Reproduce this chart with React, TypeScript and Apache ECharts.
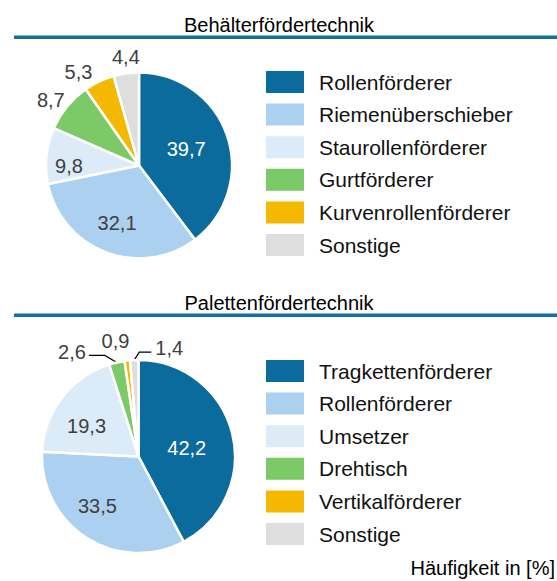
import React, { useEffect, useRef } from 'react';
import * as echarts from 'echarts';

// ---------- data ----------
const title1 = 'Behälterfördertechnik';
const categories1 = ['Rollenförderer', 'Riemenüberschieber', 'Staurollenförderer', 'Gurtförderer', 'Kurvenrollenförderer', 'Sonstige'];
const values1 = [39.7, 32.1, 9.8, 8.7, 5.3, 4.4];

const title2 = 'Palettenfördertechnik';
const categories2 = ['Tragkettenförderer', 'Rollenförderer', 'Umsetzer', 'Drehtisch', 'Vertikalförderer', 'Sonstige'];
const values2 = [42.2, 33.5, 19.3, 2.6, 0.9, 1.4];

const unitLabel = 'Häufigkeit in [%]';

// ---------- styles / layout ----------
const colors = ['#0c6b9d', '#abd0f0', '#dcebf8', '#7bc967', '#f5b800', '#dedede'];
const textColors = ['#ffffff', '#404040', '#404040', '#404040', '#404040', '#404040'];
// placement of each value label: distance from centre + angular nudge (deg, clockwise),
// or a side for labels drawn with a leader line
type LabelPlace = { r: number; da: number } | 'left' | 'right';
const labelPlace1: LabelPlace[] = [
  { r: 47, da: -1 }, { r: 59, da: 0 }, { r: 67, da: -6.5 },
  { r: 107, da: -2.7 }, { r: 108, da: -7.7 }, { r: 106, da: 1 },
];
const labelPlace2: LabelPlace[] = [
  { r: 46, da: 4 }, { r: 61, da: 7.5 }, { r: 57, da: -7.5 },
  'left', { r: 115, da: -4.6 }, 'right',
];

const FONT = '"Liberation Sans", Arial, Helvetica, sans-serif';
const LINE_BLUE = '#136f9f';
const LABEL_SIZE = 20;

const fmt = (v: number) => v.toFixed(1).replace('.', ',');

function labelHelpers(center: number[], names: string[], values: number[], places: LabelPlace[]) {
  const out: any[] = [];
  places.forEach((pl, i) => {
    if (typeof pl !== 'object') return;
    out.push({
      type: 'pie',
      center,
      radius: [pl.r - 0.5, pl.r + 0.5],
      startAngle: 90 - pl.da,
      clockwise: true,
      silent: true,
      avoidLabelOverlap: false,
      itemStyle: { color: 'rgba(0,0,0,0)', borderWidth: 0 },
      labelLine: { show: false },
      emphasis: { disabled: true },
      data: values.map((v, j) => ({
        name: names[j],
        value: v,
        label: j === i
          ? { show: true, position: 'inside', color: textColors[j], fontSize: LABEL_SIZE, fontFamily: FONT, formatter: (p: any) => fmt(p.value) }
          : { show: false },
      })),
    });
  });
  return out;
}

function mainPie(center: number[], r: number, names: string[], values: number[], places: LabelPlace[]) {
  return {
    type: 'pie',
    center,
    radius: [0, r],
    startAngle: 90,
    clockwise: true,
    silent: true,
    avoidLabelOverlap: false,
    itemStyle: { borderColor: '#ffffff', borderWidth: 2.5 },
    emphasis: { disabled: true },
    label: { show: false },
    labelLine: { show: false },
    data: values.map((v, i) => {
      const side = places[i];
      const base: any = { name: names[i], value: v, itemStyle: { color: colors[i] } };
      if (side === 'left' || side === 'right') {
        base.label = {
          show: true, position: 'outside', color: textColors[i], fontSize: LABEL_SIZE, fontFamily: FONT,
          formatter: (p: any) => fmt(p.value),
        };
        base.labelLine = { show: true, length: 8, length2: 12, lineStyle: { color: '#000000', width: 1.2 } };
      }
      return base;
    }),
    labelLayout: (params: any) => {
      const side = places[params.dataIndex];
      if ((side !== 'left' && side !== 'right') || !params.labelLinePoints) return {};
      const p0 = params.labelLinePoints[0];
      if (side === 'left') {
        const p1 = [p0[0] - 12, p0[1] - 7];
        const p2 = [p1[0] - 16, p1[1]];
        return { x: p2[0] - 3, y: p2[1] - 3, align: 'right', verticalAlign: 'middle', labelLinePoints: [p0, p1, p2] };
      }
      const p1 = [p0[0] + 5, p0[1] - 8];
      const p2 = [p1[0] + 12, p1[1]];
      return { x: p2[0] + 4, y: p2[1] - 4, align: 'left', verticalAlign: 'middle', labelLinePoints: [p0, p1, p2] };
    },
  };
}

function legendFor(names: string[], top: number) {
  return {
    orient: 'vertical',
    left: 266,
    top,
    padding: 0,
    itemWidth: 38,
    itemHeight: 22,
    itemGap: 10.6,
    icon: 'rect',
    selectedMode: false,
    textStyle: { fontSize: 21, color: '#111111', fontFamily: FONT, padding: [0, 0, 0, 10] },
    data: names.map((n, i) => ({ name: n, icon: 'rect', itemStyle: { color: colors[i], borderWidth: 0 } })),
  };
}

export default function App() {
  const ref = useRef<HTMLDivElement>(null);
  useEffect(() => {
    if (!ref.current) return;
    const chart = echarts.init(ref.current, undefined, { renderer: 'svg' });
    const c1 = [139, 165.5];
    const c2 = [138.5, 456.5];
    chart.setOption({
      animation: false,
      backgroundColor: '#ffffff',
      textStyle: { fontFamily: FONT },
      legend: [legendFor(categories1, 71), legendFor(categories2, 360)],
      graphic: [
        { type: 'text', x: 279, y: 24.5, style: { text: title1, fontSize: 20, fill: '#000', fontFamily: FONT, align: 'center', verticalAlign: 'middle' } },
        { type: 'rect', shape: { x: 14, y: 35.5, width: 543, height: 3.5 }, style: { fill: LINE_BLUE } },
        { type: 'text', x: 279, y: 302.5, style: { text: title2, fontSize: 20, fill: '#000', fontFamily: FONT, align: 'center', verticalAlign: 'middle' } },
        { type: 'rect', shape: { x: 14, y: 313.5, width: 543, height: 3.5 }, style: { fill: LINE_BLUE } },
        { type: 'text', x: 555, y: 568, style: { text: unitLabel, fontSize: 20, fill: '#000', fontFamily: FONT, align: 'right', verticalAlign: 'middle' } },
      ],
      series: [
        mainPie(c1, 93, categories1, values1, labelPlace1),
        mainPie(c2, 96.5, categories2, values2, labelPlace2),
        ...labelHelpers(c1, categories1, values1, labelPlace1),
        ...labelHelpers(c2, categories2, values2, labelPlace2),
      ],
    });
    return () => chart.dispose();
  }, []);
  return <div ref={ref} style={{ position: 'absolute', left: 0, top: 0, width: 557, height: 581 }} />;
}
